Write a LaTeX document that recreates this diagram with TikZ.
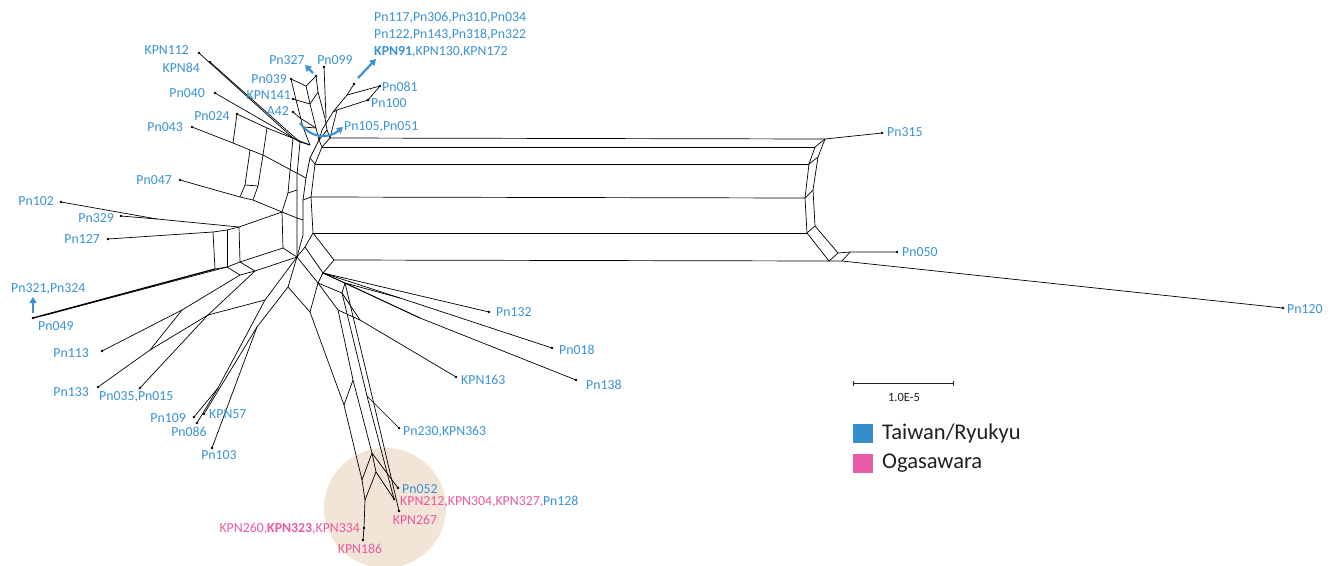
\documentclass[tikz,border=0pt]{standalone}
\usepackage{fontspec}
\setmainfont{Carlito}
\usetikzlibrary{arrows.meta}
\definecolor{lblue}{RGB}{58,146,212}
\definecolor{lpink}{RGB}{233,90,158}
\definecolor{sqblue}{RGB}{52,142,204}
\definecolor{sqpink}{RGB}{232,92,168}
\definecolor{beige}{RGB}{242,228,214}
\definecolor{dark}{RGB}{35,31,32}
\begin{document}
\begin{tikzpicture}[x=1pt,y=-1pt,
  net/.style={line width=0.7pt, line join=round},
  lab/.style={text=lblue, font=\fontsize{13.8}{15}\selectfont, inner sep=0pt},
  plab/.style={lab, text=lpink},
  harrow/.style={draw=lblue, line width=2.2pt, -{Triangle[length=6pt,width=7pt]}},
  leg/.style={text=dark, font=\fontsize{22.5}{26}\selectfont, inner sep=0pt, anchor=west}]
\useasboundingbox (0,0) rectangle (1335,565);
% highlighted Ogasawara cluster
\fill[beige] (385,508) ellipse [x radius=61pt, y radius=60pt];

% ---------------- right-hand long bands ----------------
\draw[net] (330,138) -- (825,139);
\draw[net] (322,147) -- (815,147);
\draw[net] (315,164) -- (809,164);
\draw[net] (311,197) -- (805,198);
\draw[net] (313,233) -- (807,233);
\draw[net] (334,260) -- (829,261);
\draw[net] (815,147) -- (809,164) -- (805,198) -- (807,233) -- (829,261);
\draw[net] (825,139) -- (818,157) -- (813,190) -- (815,226) -- (838,253);
\draw[net] (815,147) -- (825,139);
\draw[net] (809,164) -- (818,157);
\draw[net] (805,198) -- (813,190);
\draw[net] (807,233) -- (815,226);
\draw[net] (829,261) -- (838,253);
\draw[net] (825,139) -- (882,133);
\draw[net] (838,253) -- (850,252) -- (897,252);
\draw[net] (829,261) -- (842,261) -- (1283,308);
\draw[net] (842,261) -- (850,252);

% left chain of the bands
\draw[net] (337,110) -- (330,138) -- (322,147) -- (315,164) -- (311,197) -- (313,233) -- (334,260);
\draw[net] (327,130) -- (319,140) -- (310,158) -- (306,178) -- (303,200) -- (303,235) -- (297,257);
\draw[net] (330,138) -- (327,130);
\draw[net] (322,147) -- (319,140);
\draw[net] (315,164) -- (310,158);
\draw[net] (311,197) -- (303,200);

% ---------------- top group ----------------
\draw[net] (291,79) -- (296,100) -- (303,127) -- (310,145);
\draw[net] (306,86) -- (310,104) -- (316,128) -- (319,140);
\draw[net] (291,79) -- (306,86);
\draw[net] (296,100) -- (310,104);
\draw[net] (293,99) -- (296,100);
\draw[net] (306,86) -- (316,76);
\draw[net] (310,104) -- (318,92);
\draw[net] (316,76) -- (318,92) -- (325,118) -- (327,130);
\draw[net] (324,67) -- (326,118);
\draw[net] (293,112) -- (300,118) -- (316,128);
\draw[net] (303,127) -- (316,128);
\draw[net] (354,84) -- (347,95) -- (333,112) -- (322,130) -- (319,140);
\draw[net] (380,86) -- (347,95);
\draw[net] (380,86) -- (368,100) -- (337,110);
\draw[net] (333,112) -- (337,110);

% ---------------- upper left fan ----------------
\draw[net] (199,53) -- (293,138);
\draw[net] (210,62) -- (300,142);
\draw[net] (215,93) -- (293,138);
\draw[net] (293,138) -- (300,142) -- (310,145);
\draw[net] (237,114) -- (267,128) -- (310,145);
\draw[net] (237,114) -- (233,143);
\draw[net] (192,127) -- (233,143) -- (250,150) -- (263,155) -- (306,178);
\draw[net] (267,128) -- (263,155) -- (258,186) -- (253,200);
\draw[net] (250,150) -- (245,185) -- (240,197);
\draw[net] (245,185) -- (258,186);
\draw[net] (180,180) -- (240,197) -- (253,200) -- (282,212) -- (297,218);
\draw[net] (293,138) -- (288,193) -- (282,212) -- (283,248) -- (297,257);
\draw[net] (300,142) -- (297,175) -- (297,218) -- (297,257);
\draw[net] (288,193) -- (297,190);
\draw[net] (297,218) -- (303,220);

% ---------------- left box (Pn102, Pn329, Pn127) ----------------
\draw[net] (61,202) -- (157,219) -- (239,227);
\draw[net] (121,216) -- (157,219);
\draw[net] (108,239) -- (213,232) -- (227,230) -- (239,227) -- (282,212);
\draw[net] (213,232) -- (215,269);
\draw[net] (227,230) -- (227,267);
\draw[net] (239,227) -- (240,262);
\draw[net] (215,269) -- (227,267) -- (240,262) -- (283,248);
\draw[line width=1.3pt] (33,318) -- (215,269);
\draw[net] (42,316) -- (227,267);

% ---------------- lower left ----------------
\draw[net] (227,267) -- (240,275) -- (255,271) -- (240,262);
\draw[net] (255,271) -- (297,257);
\draw[net] (240,275) -- (182,310) -- (102,351);
\draw[net] (182,310) -- (150,350) -- (98,387);
\draw[net] (255,271) -- (208,315) -- (150,350);
\draw[net] (208,315) -- (140,388);
\draw[net] (297,257) -- (265,300) -- (208,315);
\draw[net] (265,300) -- (218,388);
\draw[net] (297,257) -- (288,287) -- (257,327) -- (212,448);
\draw[net] (257,327) -- (221,386);
\draw[net] (218,388) -- (194,417);
\draw[net] (218,388) -- (197,423);
\draw[net] (221,386) -- (204,414);

% ---------------- lower right ----------------
\draw[net] (313,233) -- (305,247) -- (323,273) -- (334,260);
\draw[net] (305,247) -- (297,257);
\draw[net] (297,257) -- (318,283) -- (310,312) -- (288,287);
\draw[net] (323,273) -- (345,283) -- (342,293) -- (318,283) -- (323,273);
\draw[net] (323,273) -- (489,312);
\draw[net] (323,273) -- (400,298) -- (552,348);
\draw[net] (345,283) -- (400,298);
\draw[net] (323,273) -- (420,318) -- (576,380);
\draw[net] (345,283) -- (420,318);
\draw[net] (342,293) -- (360,320) -- (456,377);
\draw[net] (318,283) -- (338,310) -- (360,320);
\draw[net] (310,312) -- (344,405) -- (362,480) -- (365,500) -- (364,528) -- (363,540);
\draw[net] (338,310) -- (353,380) -- (372,453);
\draw[net] (353,380) -- (344,405);
\draw[net] (342,293) -- (368,400) -- (394,499);
\draw[net] (345,283) -- (373,400) -- (399,511);
\draw[net] (367,396) -- (399,428);
\draw[net] (372,453) -- (362,480);
\draw[net] (372,453) -- (398,488);
\draw[net] (372,453) -- (376,472) -- (365,500);
\draw[net] (376,472) -- (394,499);

% ---------------- leaf dots ----------------
\foreach \p in {(354,84),(380,86),(368,100),(324,67),(316,76),(291,79),(293,99),(293,112),
  (199,53),(210,62),(215,93),(237,114),(192,127),(180,180),(61,202),(121,216),(108,239),
  (33,318),(102,351),(98,387),(140,388),(194,417),(204,414),(197,423),(212,448),
  (399,428),(456,377),(489,312),(552,348),(576,380),(398,488),(394,499),(399,511),
  (364,528),(363,540),(882,133),(897,252),(1283,308)}
  \fill \p circle (1.3pt);

% ---------------- blue arrows ----------------
\draw[harrow] (358,78) -- (376,59);
\draw[harrow] (313,73) -- (305,65);
\draw[harrow] (33,313) -- (33,297);
\draw[harrow] (300,123) .. controls (312,140) and (330,138) .. (343,127);

% ---------------- labels ----------------
\node[lab, anchor=west] (t1) at (374,18) {Pn117,Pn306,Pn310,Pn034};
\node[lab, anchor=west] (t2) at (374,35) {Pn122,Pn143,Pn318,Pn322};
\node[lab, anchor=west] (t3) at (374,52) {\textbf{KPN91},KPN130,KPN172};
\node[lab, anchor=east] (kpn112) at (189,50) {KPN112};
\node[lab, anchor=east] (kpn84) at (200,68) {KPN84};
\node[lab, anchor=east] (pn040) at (205,93) {Pn040};
\node[lab] (pn024) at (212,116) {Pn024};
\node[lab, anchor=east] (pn043) at (183,127) {Pn043};
\node[lab, anchor=east] (pn047) at (172,180) {Pn047};
\node[lab] (pn327) at (287,60) {Pn327};
\node[lab] (pn099) at (335,60) {Pn099};
\node[lab, anchor=east] (pn039) at (287,79) {Pn039};
\node[lab, anchor=east] (kpn141) at (291,95) {KPN141};
\node[lab, anchor=east] (a42) at (289,111) {A42};
\node[lab, anchor=west] (pn081) at (382,87) {Pn081};
\node[lab, anchor=west] (pn100) at (371,103) {Pn100};
\node[lab, anchor=west] (pn105) at (344,127) {Pn105,Pn051};
\node[lab, anchor=west] (pn315) at (887,132) {Pn315};
\node[lab, anchor=west] (pn050) at (902,252) {Pn050};
\node[lab, anchor=west] (pn120) at (1287,309) {Pn120};
\node[lab, anchor=east] (pn102) at (54,201) {Pn102};
\node[lab, anchor=east] (pn329) at (114,218) {Pn329};
\node[lab, anchor=east] (pn127) at (100,239) {Pn127};
\node[lab, anchor=west] (pn321) at (11,289) {Pn321,Pn324};
\node[lab, anchor=west] (pn049) at (38,326) {Pn049};
\node[lab, anchor=east] (pn113) at (89,353) {Pn113};
\node[lab, anchor=east] (pn133) at (89,392) {Pn133};
\node[lab, anchor=west] (pn035) at (99,397) {Pn035,Pn015};
\node[lab, anchor=east] (pn109) at (186,418) {Pn109};
\node[lab, anchor=west] (kpn57) at (209,414) {KPN57};
\node[lab] (pn086) at (189,432) {Pn086};
\node[lab] (pn103) at (219,455) {Pn103};
\node[lab, anchor=west] (pn230) at (403,432) {Pn230,KPN363};
\node[lab, anchor=west] (kpn163) at (461,380) {KPN163};
\node[lab, anchor=west] (pn132) at (496,312) {Pn132};
\node[lab, anchor=west] (pn018) at (559,350) {Pn018};
\node[lab, anchor=west] (pn138) at (586,385) {Pn138};
\node[lab, anchor=west] (pn052) at (402,489) {Pn052};
\node[plab, anchor=west] (kpn212) at (400,502) {KPN212,KPN304,KPN327,\textcolor{lblue}{Pn128}};
\node[plab] (kpn267) at (415,520) {KPN267};
\node[plab, anchor=east] (kpn260) at (360,529) {KPN260,\textbf{KPN323},KPN334};
\node[plab] (kpn186) at (360,549) {KPN186};

% ---------------- scale bar and legend ----------------
\coordinate (sb1) at (853,383);
\coordinate (sb2) at (953,383);
\draw[dark, line width=0.8pt] (sb1) -- (sb2);
\draw[dark, line width=0.8pt] ([yshift=-2.5pt]sb1) -- ([yshift=2.5pt]sb1);
\draw[dark, line width=0.8pt] ([yshift=-2.5pt]sb2) -- ([yshift=2.5pt]sb2);
\node[text=dark, font=\fontsize{12.5}{14}\selectfont, inner sep=0pt] (sbl) at (904,397) {1.0E-5};
\fill[sqblue] (853,424) rectangle (873,443);
\fill[sqpink] (853,454) rectangle (873,473);
\node[leg] (lt) at (882,433) {Taiwan/Ryukyu};
\node[leg] (lo) at (882,463) {Ogasawara};
\end{tikzpicture}
\end{document}
